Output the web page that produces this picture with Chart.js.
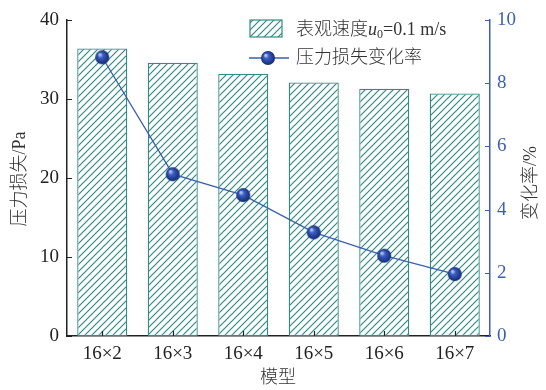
<!DOCTYPE html>
<html>
<head>
<meta charset="utf-8">
<script src="https://cdn.jsdelivr.net/npm/chart.js@4/dist/chart.umd.min.js"></script>
<style>
  html, body { margin: 0; padding: 0; background: #fff; }
  #wrap { width: 546px; height: 390px; }
</style>
</head>
<body>
<div id="wrap"><canvas id="chart" width="546" height="390"></canvas></div>
<script>
"use strict";

// data
var categories = ["16×2", "16×3", "16×4", "16×5", "16×6", "16×7"];
var pressureLoss = [36.4, 34.6, 33.2, 32.1, 31.3, 30.7];
var changeRate = [8.82, 5.12, 4.46, 3.28, 2.54, 1.96];
var leftTicks = [0, 10, 20, 30, 40];
var rightTicks = [0, 2, 4, 6, 8, 10];

var teal = "#2f8c86";
var blue = "#3a5fb3";
var ink = "#222222";
var serif = '"Liberation Serif", "DejaVu Serif", serif';
var cjk = '"Liberation Serif", "Noto Sans CJK SC", serif';

// hatch pattern for the bars
function makeHatch() {
    var c = document.createElement("canvas");
    c.width = 7; c.height = 7;
    var g = c.getContext("2d");
    g.fillStyle = "#fff";
    g.fillRect(0, 0, 7, 7);
    g.strokeStyle = teal;
    g.lineWidth = 1.2;
    g.beginPath();
    g.moveTo(-1, 8); g.lineTo(8, -1);
    g.moveTo(-1, 1); g.lineTo(1, -1);
    g.moveTo(6, 8); g.lineTo(8, 6);
    g.stroke();
    return g.createPattern(c, "repeat");
}

// shaded ball marker
function makeBall(r) {
    var c = document.createElement("canvas");
    c.width = r * 2 + 2; c.height = r * 2 + 2;
    var g = c.getContext("2d");
    var cx = r + 1, cy = r + 1;
    var grad = g.createRadialGradient(cx - r * 0.35, cy - r * 0.4, r * 0.1, cx, cy, r);
    grad.addColorStop(0, "#b9c8f0");
    grad.addColorStop(0.3, "#3d5fc0");
    grad.addColorStop(0.8, "#1d3890");
    grad.addColorStop(1, "#15296c");
    g.fillStyle = grad;
    g.beginPath();
    g.arc(cx, cy, r, 0, Math.PI * 2);
    g.fill();
    return c;
}

var hatch = makeHatch();
var ball = makeBall(7);

var extras = {
    id: "extras",
    afterDraw: function (chart) {
        var ctx = chart.ctx;
        var x = chart.scales.x, y = chart.scales.y, y1 = chart.scales.y1;
        var area = chart.chartArea;
        ctx.save();

        // inward tick marks
        ctx.lineWidth = 1.2;
        ctx.strokeStyle = ink;
        ctx.beginPath();
        leftTicks.forEach(function (v) {
            var py = Math.round(y.getPixelForValue(v)) + 0.5;
            ctx.moveTo(area.left, py); ctx.lineTo(area.left + 5, py);
        });
        categories.forEach(function (c, i) {
            var px = Math.round(x.getPixelForValue(i)) + 0.5;
            ctx.moveTo(px, area.bottom); ctx.lineTo(px, area.bottom - 5);
        });
        ctx.stroke();
        ctx.strokeStyle = blue;
        ctx.beginPath();
        rightTicks.forEach(function (v) {
            var py = Math.round(y1.getPixelForValue(v)) + 0.5;
            ctx.moveTo(area.right, py); ctx.lineTo(area.right - 5, py);
        });
        ctx.stroke();

        // axis titles
        ctx.fillStyle = "#333";
        ctx.font = "300 18px " + cjk;
        ctx.textAlign = "center";
        ctx.textBaseline = "middle";
        ctx.fillText("模型", 278, 378);

        ctx.save();
        ctx.translate(20, 179);
        ctx.rotate(-Math.PI / 2);
        ctx.fillText("压力损失/Pa", 0, 0);
        ctx.restore();

        ctx.save();
        ctx.translate(531, 183);
        ctx.rotate(-Math.PI / 2);
        ctx.fillText("变化率/%", 0, 0);
        ctx.restore();

        // legend
        ctx.fillStyle = hatch;
        ctx.fillRect(250, 20, 32, 17);
        ctx.strokeStyle = teal;
        ctx.lineWidth = 1.2;
        ctx.strokeRect(250, 20, 32, 17);

        ctx.strokeStyle = blue;
        ctx.lineWidth = 1.3;
        ctx.beginPath();
        ctx.moveTo(249, 58); ctx.lineTo(289, 58);
        ctx.stroke();
        ctx.drawImage(ball, 268 - 8, 58 - 8);

        ctx.fillStyle = "#333";
        ctx.textAlign = "left";
        ctx.textBaseline = "alphabetic";
        var tx = 296, ty = 35;
        ctx.font = "300 18px " + cjk;
        ctx.fillText("表观速度", tx, ty);
        tx += ctx.measureText("表观速度").width;
        ctx.font = "italic 18px " + serif;
        ctx.fillText("u", tx, ty);
        tx += ctx.measureText("u").width;
        ctx.font = "12px " + serif;
        ctx.fillText("0", tx, ty + 3);
        tx += ctx.measureText("0").width;
        ctx.font = "18px " + serif;
        ctx.fillText("=0.1 m/s", tx, ty);

        ctx.font = "300 18px " + cjk;
        ctx.textBaseline = "middle";
        ctx.fillText("压力损失变化率", 296, 58);

        ctx.restore();
    }
};

var CHART = document.getElementById("chart");
var myChart = new Chart(CHART, {
    data: {
        labels: categories,
        datasets: [
            {
                type: "line",
                label: "压力损失变化率",
                data: changeRate,
                yAxisID: "y1",
                borderColor: blue,
                borderWidth: 1.3,
                pointStyle: ball,
                pointRadius: 7,
                pointHoverRadius: 7,
                tension: 0,
                order: 0,
            },
            {
                type: "bar",
                label: "表观速度u0=0.1 m/s",
                data: pressureLoss,
                yAxisID: "y",
                backgroundColor: hatch,
                borderColor: teal,
                borderWidth: 1.3,
                borderSkipped: false,
                categoryPercentage: 1,
                barPercentage: 0.71,
                order: 1,
            },
        ],
    },
    options: {
        responsive: false,
        animation: false,
        events: [],
        layout: { padding: { top: 20, left: 0, right: 0, bottom: 0 } },
        plugins: {
            legend: { display: false },
            tooltip: { enabled: false },
        },
        scales: {
            x: {
                offset: true,
                grid: { display: false, drawTicks: false },
                border: { color: ink, width: 1.5 },
                ticks: { color: ink, padding: 7, font: { family: serif, size: 19 } },
                afterFit: function (s) { s.height = 54; },
            },
            y: {
                position: "left",
                min: 0,
                max: 40,
                grid: { display: false, drawTicks: false },
                border: { color: ink, width: 1.5 },
                ticks: { stepSize: 10, color: ink, padding: 8, font: { family: serif, size: 19 } },
                afterFit: function (s) { s.width = 67; },
            },
            y1: {
                position: "right",
                min: 0,
                max: 10,
                grid: { display: false, drawTicks: false },
                border: { color: blue, width: 1.5 },
                ticks: { stepSize: 2, color: blue, padding: 7, font: { family: serif, size: 19 } },
                afterFit: function (s) { s.width = 56; },
            },
        },
    },
    plugins: [extras],
});
</script>
</body>
</html>
